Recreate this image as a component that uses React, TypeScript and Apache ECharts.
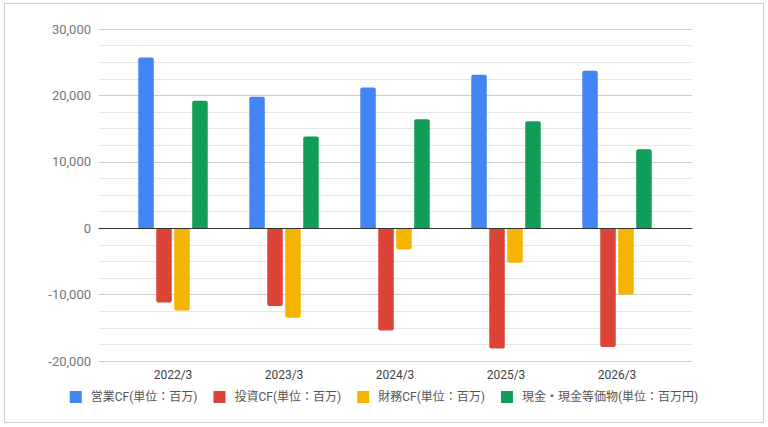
import React, { useEffect, useRef } from "react";
import * as echarts from "echarts";

const categories = ["2022/3", "2023/3", "2024/3", "2025/3", "2026/3"];
const seriesNames = [
  "営業CF(単位：百万)",
  "投資CF(単位：百万)",
  "財務CF(単位：百万)",
  "現金・現金等価物(単位：百万円)",
];
const operatingCF = [25700, 19800, 21200, 23100, 23700];
const investingCF = [-11200, -11700, -15400, -18100, -17900];
const financingCF = [-12400, -13500, -3200, -5200, -10000];
const cashEquivalents = [19200, 13800, 16400, 16100, 11900];
const colors = ["#4285F4", "#DB4437", "#F4B400", "#0F9D58"];
const yTicks = { min: -20000, max: 30000, interval: 10000 };

export default function App() {
  const ref = useRef<HTMLDivElement>(null);
  useEffect(() => {
    document.body.style.margin = "0";
    if (!ref.current) return;
    const chart = echarts.init(ref.current, undefined, { renderer: "svg" });
    const all = [operatingCF, investingCF, financingCF, cashEquivalents];
    const font = "Roboto, 'Noto Sans CJK JP', sans-serif";
    chart.setOption({
      animation: false,
      backgroundColor: "#ffffff",
      textStyle: { fontFamily: font },
      graphic: [
        {
          type: "rect",
          shape: { x: 4.5, y: 3.5, width: 759, height: 419 },
          style: { fill: "none", stroke: "#cccccc", lineWidth: 1 },
          silent: true,
        },
      ],
      legend: {
        left: "center",
        top: 386,
        itemWidth: 12,
        itemHeight: 12,
        itemGap: 16,
        icon: "rect",
        data: seriesNames,
        textStyle: { fontSize: 12, color: "#555555", fontFamily: font, padding: [0, 0, 0, 4] },
      },
      grid: [
        { left: 99, right: 76, top: 29, bottom: 66 },
        { left: 117.5, right: 95.5, top: 29, bottom: 66 },
      ],
      xAxis: [
        {
          type: "category",
          gridIndex: 0,
          data: categories,
          z: 10,
          axisLine: { show: true, onZero: true, lineStyle: { color: "#333333", width: 1 } },
          axisTick: { show: false },
          axisLabel: { show: false },
          splitLine: { show: false },
        },
        {
          type: "category",
          gridIndex: 1,
          data: categories,
          axisLine: { show: false },
          axisTick: { show: false },
          axisLabel: { color: "#444444", fontSize: 12, margin: 8, fontFamily: font },
          splitLine: { show: false },
        },
      ],
      yAxis: [
        {
          type: "value",
          gridIndex: 0,
          min: yTicks.min,
          max: yTicks.max,
          interval: yTicks.interval,
          axisLine: { show: false },
          axisTick: { show: false },
          axisLabel: {
            color: "#757575",
            fontSize: 13,
            margin: 8,
            fontFamily: font,
            formatter: (v: number) => v.toLocaleString("en-US"),
          },
          splitLine: { show: true, lineStyle: { color: "#cccccc", width: 1 } },
          minorTick: { show: false, splitNumber: 4 },
          minorSplitLine: { show: true, lineStyle: { color: "#e6e6e6", width: 1 } },
        },
        {
          type: "value",
          gridIndex: 1,
          min: yTicks.min,
          max: yTicks.max,
          interval: yTicks.interval,
          show: false,
          splitLine: { show: false },
        },
      ],
      series: seriesNames.map((name, i) => ({
        name,
        type: "bar",
        xAxisIndex: 1,
        yAxisIndex: 1,
        barWidth: 15.5,
        barGap: "16%",
        itemStyle: { color: colors[i] },
        data: all[i].map((v) => ({
          value: v,
          itemStyle: { borderRadius: v >= 0 ? [2, 2, 0, 0] : [0, 0, 2, 2] },
        })),
      })),
    });
    return () => chart.dispose();
  }, []);
  return <div ref={ref} style={{ width: 768, height: 427 }} />;
}
